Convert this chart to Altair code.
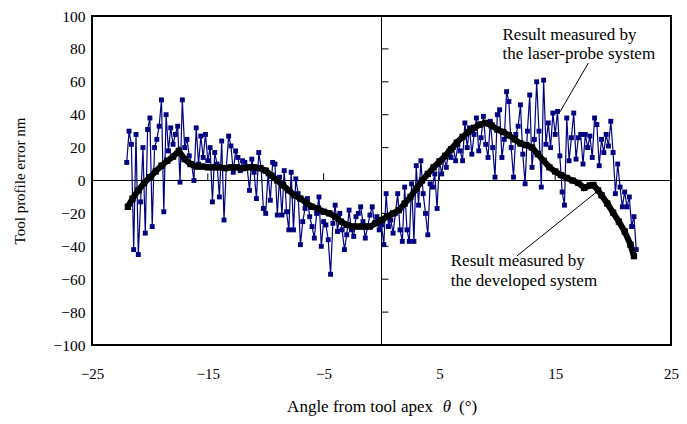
import altair as alt
import pandas as pd

# ---------------- data ----------------
# Laser-probe system (blue), x grid from -22.0 to 22.0 in 0.2 degree steps
blue_start = -22.0
blue_step = 0.2
blue_y = [
    11, 30, 22, -42, 28,
    -45, -13, 20, -32, 31,
    38, -28, 20, 25, 33,
    49, -19, 40, 18, 32,
    22, 28, 33, -1, 49,
    20, 25, 15, 10, 0,
    32, 10, 27, 14, 28,
    12, 20, -13, 17, 10,
    -10, 24, -24, 8, 27,
    21, 5, 18, 14, 6,
    12, 11, 8, -6, 13,
    5, -11, 17, 8, -17,
    -20, 4, -12, 11, 10,
    -21, 2, -21, 6, -19,
    -30, 5, -30, 1, -8,
    -39, -25, -17, -11, -22,
    -28, -35, -20, -10, -40,
    -25, -27, -36, -57, -26,
    -15, -31, -20, -30, -42,
    -33, -18, -30, -34, -22,
    -20, -16, -25, -35, -28,
    -21, -16, -26, -22, -30,
    -27, -39, -8, -28, -24,
    -32, -20, -8, -30, -37,
    -4, -30, -37, -2, -37,
    9, -15, 12, -8, -20,
    -33, -2, -4, 4, -17,
    12, 4, 14, 8, 18,
    14, 20, 12, 22, 18,
    12, 35, 20, 32, 16,
    28, 38, 18, 26, 39,
    22, 14, 36, 20, 2,
    40, 43, 14, 25, 54,
    48, 20, 2, 28, 33,
    46, 16, -2, 30, 52,
    8, 25, 60, 30, -4,
    61, 22, 35, 20, 41,
    28, 42, 15, -7, -15,
    38, 12, 26, 41, 13,
    26, 28, 10, 28, 20,
    27, 14, 38, 34, 9,
    25, 17, 28, 21, 36,
    17, -8, 10, -4, -16,
    -7, -16, -10, -28, -22,
    -42,
]
blue_x = [round(blue_start + blue_step * i, 2) for i in range(len(blue_y))]

# Developed system (black)
black_x = [-21.9, -21.5, -21.0, -20.5, -20.0, -19.5, -19.0, -18.5, -18.0, -17.5,
           -17.0, -16.5, -16.0, -15.5, -15.0, -14.5, -14.0, -13.5, -13.0, -12.5,
           -12.0, -11.5, -11.0, -10.5, -10.0, -9.5, -9.0, -8.5, -8.0, -7.5,
           -7.0, -6.5, -6.0, -5.5, -5.0, -4.5, -4.0, -3.5, -3.0, -2.5,
           -2.0, -1.5, -1.0, -0.5, 0.0, 0.5, 1.0, 1.5, 2.0, 2.5,
           3.0, 3.5, 4.0, 4.5, 5.0, 5.5, 6.0, 6.5, 7.0, 7.5,
           8.0, 8.5, 9.0, 9.5, 10.0, 10.5, 11.0, 11.5, 12.0, 12.5,
           13.0, 13.5, 14.0, 14.5, 15.0, 15.5, 16.0, 16.5, 17.0, 17.5,
           18.0, 18.3, 18.7, 19.0, 19.5, 20.0, 20.5, 21.0, 21.5, 21.8]
black_y = [-16, -11, -6, -1.5, 2, 5.5, 9, 12, 14.5, 18,
           13, 10, 8.5, 8.5, 8, 8, 8, 7.5, 8, 8,
           7.5, 8, 8, 7.5, 6, 3, 0, -3, -6, -9,
           -11, -13.5, -16, -17, -19, -20, -22, -25, -27, -28,
           -28, -28, -28, -26, -24, -22, -20, -18, -14, -10,
           -5, 0, 4, 8, 11.5, 15, 19, 23, 26.5, 29.5,
           32, 34, 35, 33.5, 31, 29.5, 27.5, 25, 22.5, 21.5,
           20, 16, 12, 8, 5.5, 3.3, 1.5, 0, -1.5, -4.5,
           -3, -2.7, -6, -9, -14, -19.5, -25, -31, -39, -46]

x_tick_values = [-25, -15, -5, 5, 15, 25]
y_tick_values = [-100, -80, -60, -40, -20, 0, 20, 40, 60, 80, 100]
inner_x_ticks = [-15, -5, 5, 15]
inner_y_ticks = [-80, -60, -40, -20, 20, 40, 60, 80]

ann_text = ["Result measured by", "the laser-probe system",
            "Result measured by", "the developed system"]
ann_x = [10.45, 10.45, 5.98, 5.98]
ann_y = [88.6, 77.2, -48.8, -60.8]

lead_x = [17.86, 18.43]
lead_y = [71.4, -7.8]
lead_x2 = [15.42, 11.69]
lead_y2 = [41.8, -45.9]

# x-axis title pieces (θ is italic in the reference)
xtitle_parts = ["Angle from tool apex", "θ", "(°)"]

FONT = "Liberation Serif"
BLUE = "#000080"

# ---------------- chart ----------------
xs = alt.Scale(domain=[-25, 25], nice=False, zero=False)
ys = alt.Scale(domain=[-100, 100], nice=False, zero=False)

x_axis = alt.Axis(values=x_tick_values, ticks=False, tickSize=0, domain=False, grid=False,
                  labelFlush=False,
                  labelFont=FONT, labelFontSize=15, labelColor="black", labelPadding=21,
                  title=None)
y_axis = alt.Axis(values=y_tick_values, ticks=False, tickSize=0, domain=False, grid=False,
                  labelFont=FONT, labelFontSize=15.5, labelColor="black", labelPadding=7,
                  title="Tool profile error nm", titleFont=FONT, titleFontSize=15,
                  titleFontWeight="normal", titleColor="black", titlePadding=26)


def X(field="x"):
    return alt.X(f"{field}:Q", scale=xs, axis=x_axis)


def Y(field="y"):
    return alt.Y(f"{field}:Q", scale=ys, axis=y_axis)


blue_df = pd.DataFrame({"x": blue_x, "y": blue_y})
black_df = pd.DataFrame({"x": black_x, "y": black_y})

vline = alt.Chart(pd.DataFrame({"x": [0]})).mark_rule(color="black", strokeWidth=1).encode(x=X())
hline = alt.Chart(pd.DataFrame({"y": [0]})).mark_rule(color="black", strokeWidth=1).encode(y=Y())

yt_df = pd.DataFrame({"y": inner_y_ticks, "x": [0] * len(inner_y_ticks), "x2": [0.6] * len(inner_y_ticks)})
ytick = alt.Chart(yt_df).mark_rule(color="black", strokeWidth=1).encode(x=X(), x2="x2:Q", y=Y())
xt_df = pd.DataFrame({"x": inner_x_ticks, "y": [0] * len(inner_x_ticks), "y2": [4.3] * len(inner_x_ticks)})
xtick = alt.Chart(xt_df).mark_rule(color="black", strokeWidth=1).encode(x=X(), y=Y(), y2="y2:Q")

blue_line = alt.Chart(blue_df).mark_line(color=BLUE, strokeWidth=1.2).encode(x=X(), y=Y(), order="x:Q")
blue_pts = alt.Chart(blue_df).mark_point(shape="square", filled=True, color=BLUE, size=24, opacity=1).encode(x=X(), y=Y())

black_line = alt.Chart(black_df).mark_line(color="black", strokeWidth=6).encode(x=X(), y=Y(), order="x:Q")
black_pts = alt.Chart(black_df).mark_point(shape="square", filled=True, color="black", size=40, opacity=1).encode(x=X(), y=Y())

lead_df = pd.DataFrame({"x": lead_x, "y": lead_y, "x2": lead_x2, "y2": lead_y2})
leaders = alt.Chart(lead_df).mark_rule(color="black", strokeWidth=1).encode(x=X(), y=Y(), x2="x2:Q", y2="y2:Q")

ann_df = pd.DataFrame({"x": ann_x, "y": ann_y, "t": ann_text})
ann = alt.Chart(ann_df).mark_text(font=FONT, fontSize=17, align="left", baseline="middle", color="black").encode(
    x=X(), y=Y(), text="t:N")

# x-axis title as text pieces placed below the plot (pixel positions relative to plot area)
TY = 395.5
t1 = alt.Chart(pd.DataFrame({"t": [xtitle_parts[0]]})).mark_text(
    font=FONT, fontSize=17, align="right", baseline="alphabetic", color="black"
).encode(text="t:N", x=alt.value(341), y=alt.value(TY))
t2 = alt.Chart(pd.DataFrame({"t": [xtitle_parts[1]]})).mark_text(
    font=FONT, fontSize=17, fontStyle="italic", align="center", baseline="alphabetic", color="black"
).encode(text="t:N", x=alt.value(355), y=alt.value(TY))
t3 = alt.Chart(pd.DataFrame({"t": [xtitle_parts[2]]})).mark_text(
    font=FONT, fontSize=17, align="left", baseline="alphabetic", color="black"
).encode(text="t:N", x=alt.value(367), y=alt.value(TY))

chart = alt.layer(
    vline, hline, ytick, xtick, blue_line, blue_pts, black_line, black_pts, leaders, ann, t1, t2, t3
).properties(
    width=579, height=329,
    autosize=alt.AutoSizeParams(type="none"),
    padding={"left": 84, "top": 8, "right": 8, "bottom": 71},
    background="white",
).configure_view(stroke="black", strokeWidth=2)

chart.save("out.html", embed_options={"renderer": "svg", "actions": False})
